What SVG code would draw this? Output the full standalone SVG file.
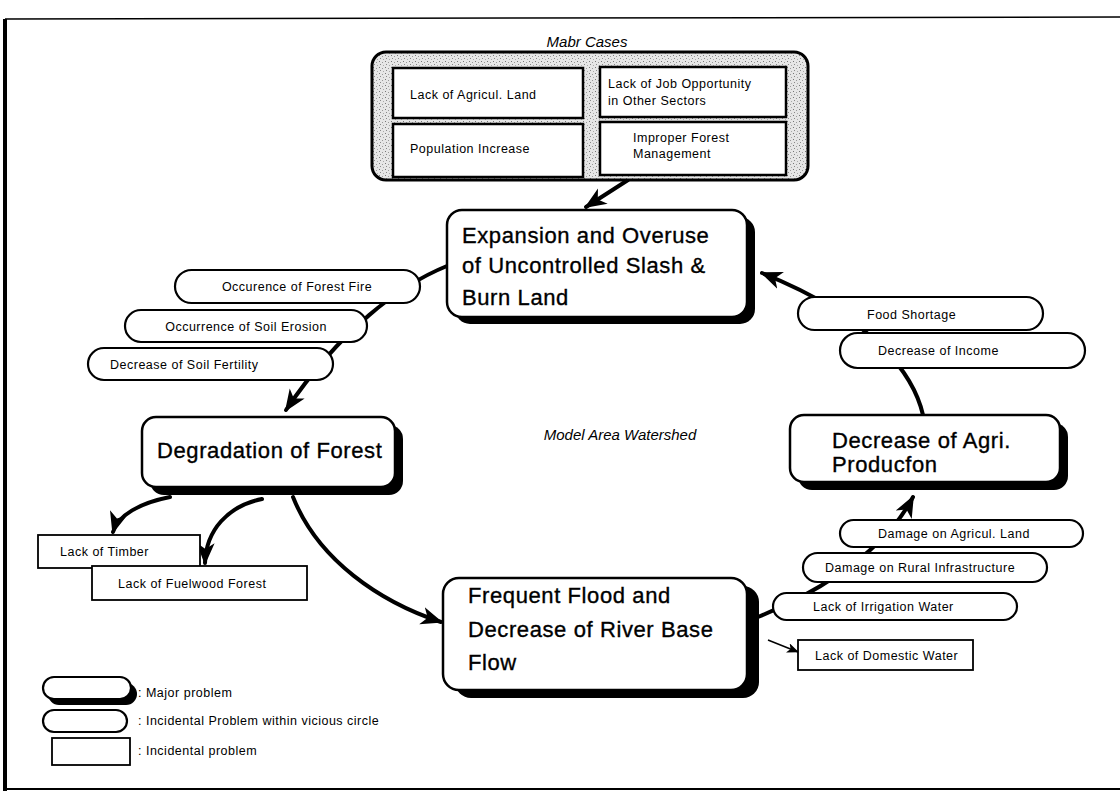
<svg xmlns="http://www.w3.org/2000/svg" width="1120" height="791" viewBox="0 0 1120 791">
  <defs>
    <style>
      .frame { stroke: #000; fill: none; }
      .card { fill: #fff; stroke: #000; stroke-width: 2.5; }
      .shadow { fill: #000; }
      .pill { fill: #fff; stroke: #000; stroke-width: 2.2; }
      .inner { fill: #fff; stroke: #000; stroke-width: 2.5; }
      .plain { fill: #fff; stroke: #000; stroke-width: 1.8; }
      .big { font-family: "Liberation Sans", Arial, sans-serif; font-size: 22px; letter-spacing: 0.6px; fill: #000; stroke: #000; stroke-width: 0.35px; }
      .small { font-family: "Liberation Sans", Arial, sans-serif; font-size: 12.5px; letter-spacing: 0.5px; fill: #000; }
      .note { font-family: "Liberation Sans", Arial, sans-serif; font-size: 15px; font-style: italic; fill: #000; }
      .link { fill: none; stroke: #000; stroke-width: 4; stroke-linecap: round; }
      .thin { fill: none; stroke: #000; stroke-width: 1.5; }
    </style>
    <pattern id="stipple" width="6" height="6" patternUnits="userSpaceOnUse">
      <rect width="6" height="6" fill="#e6e6e6"/>
      <rect x="1" y="1" width="1" height="1" fill="#777"/>
      <rect x="4" y="2" width="1" height="1" fill="#999"/>
      <rect x="2" y="4" width="1" height="1" fill="#888"/>
      <rect x="5" y="5" width="1" height="1" fill="#aaa"/>
    </pattern>
    <marker id="head" markerUnits="userSpaceOnUse" markerWidth="24" markerHeight="20" refX="20" refY="10" orient="auto">
      <path d="M0,1 L22,10 L0,19 L6,10 z" fill="#000"/>
    </marker>
    <marker id="headSmall" markerUnits="userSpaceOnUse" markerWidth="12" markerHeight="10" refX="11" refY="5" orient="auto">
      <path d="M0,0 L12,5 L0,10 L3,5 z" fill="#000"/>
    </marker>
  </defs>

  <rect width="1120" height="791" fill="#fff"/>

  <!-- page frame -->
  <g id="frame">
    <line class="frame" x1="5" y1="19" x2="1120" y2="17" stroke-width="1.5"/>
    <line class="frame" x1="5" y1="19" x2="5" y2="791" stroke-width="4"/>
    <line class="frame" x1="5" y1="789" x2="1120" y2="789" stroke-width="2"/>
  </g>

  <!-- connectors -->
  <g id="connectors">
    <path class="link" d="M628,180 L586,207" marker-end="url(#head)"/>
    <path class="link" d="M447,266 C400,285 340,330 286,410" marker-end="url(#head)"/>
    <path class="link" d="M170,497 C140,503 118,515 113,532" marker-end="url(#head)"/>
    <path class="link" d="M262,499 C228,506 206,530 205,563" marker-end="url(#head)"/>
    <path class="link" d="M293,497 C318,560 380,602 441,622" marker-end="url(#head)"/>
    <path class="link" d="M758,617 C800,600 880,560 913,497" marker-end="url(#head)"/>
    <path class="link" d="M923,415 C915,380 880,320 762,273" marker-end="url(#head)"/>
    <path class="thin" d="M768,640 L798,652" marker-end="url(#headSmall)"/>
  </g>

  <!-- major causes panel -->
  <g id="major-causes">
    <text class="note" x="587" y="47" text-anchor="middle">Mabr Cases</text>
    <rect x="372" y="52" width="436" height="128" rx="14" fill="url(#stipple)" stroke="#000" stroke-width="3"/>
    <rect class="inner" x="393" y="68" width="190" height="50"/>
    <rect class="inner" x="600" y="67" width="186" height="50"/>
    <rect class="inner" x="393" y="124" width="190" height="53"/>
    <rect class="inner" x="600" y="122" width="186" height="53"/>
    <text class="small" x="410" y="99">Lack of Agricul. Land</text>
    <text class="small" x="608" y="88">Lack of Job Opportunity</text>
    <text class="small" x="608" y="105">in Other Sectors</text>
    <text class="small" x="410" y="153">Population Increase</text>
    <text class="small" x="633" y="142">Improper Forest</text>
    <text class="small" x="633" y="158">Management</text>
  </g>

  <g id="expansion">
    <rect class="shadow" x="455" y="217" width="300" height="107" rx="15"/>
    <rect class="card" x="447" y="210" width="300" height="107" rx="15"/>
    <text class="big" x="462" y="243">Expansion and Overuse</text>
    <text class="big" x="462" y="273">of Uncontrolled Slash &amp;</text>
    <text class="big" x="462" y="305">Burn Land</text>
  </g>

  <g id="degradation">
    <rect class="shadow" x="150" y="425" width="253" height="70" rx="14"/>
    <rect class="card" x="142" y="417" width="253" height="70" rx="14"/>
    <text class="big" x="157" y="458">Degradation of Forest</text>
  </g>

  <g id="agri-production">
    <rect class="shadow" x="798" y="423" width="270" height="67" rx="14"/>
    <rect class="card" x="790" y="415" width="270" height="67" rx="14"/>
    <text class="big" x="832" y="448">Decrease of Agri.</text>
    <text class="big" x="832" y="472">Producfon</text>
  </g>

  <g id="flood">
    <rect class="shadow" x="455" y="586" width="304" height="112" rx="16"/>
    <rect class="card" x="443" y="578" width="304" height="112" rx="16"/>
    <text class="big" x="468" y="603">Frequent Flood and</text>
    <text class="big" x="468" y="637">Decrease of River Base</text>
    <text class="big" x="468" y="670">Flow</text>
  </g>

  <g id="forest-fire">
    <rect class="pill" x="175" y="270" width="245" height="33" rx="16.5"/>
    <text class="small" x="297" y="291" text-anchor="middle">Occurence of Forest Fire</text>
  </g>
  <g id="soil-erosion">
    <rect class="pill" x="125" y="310" width="242" height="32" rx="16"/>
    <text class="small" x="246" y="331" text-anchor="middle">Occurrence of Soil Erosion</text>
  </g>
  <g id="soil-fertility">
    <rect class="pill" x="88" y="348" width="245" height="32" rx="16"/>
    <text class="small" x="110" y="369">Decrease of Soil Fertility</text>
  </g>

  <g id="food-shortage">
    <rect class="pill" x="798" y="297" width="245" height="33" rx="16.5"/>
    <text class="small" x="867" y="319">Food Shortage</text>
  </g>
  <g id="income">
    <rect class="pill" x="840" y="333" width="245" height="35" rx="17.5"/>
    <text class="small" x="878" y="355">Decrease of Income</text>
  </g>

  <g id="agri-land">
    <rect class="pill" x="840" y="520" width="243" height="27" rx="13.5"/>
    <text class="small" x="878" y="538">Damage on Agricul. Land</text>
  </g>
  <g id="rural-infra">
    <rect class="pill" x="803" y="553" width="244" height="29" rx="14.5"/>
    <text class="small" x="825" y="572">Damage on Rural Infrastructure</text>
  </g>
  <g id="irrigation">
    <rect class="pill" x="773" y="593" width="244" height="27" rx="13.5"/>
    <text class="small" x="813" y="611">Lack of Irrigation Water</text>
  </g>

  <g id="timber">
    <rect class="plain" x="38" y="535" width="162" height="33"/>
    <text class="small" x="60" y="556">Lack of Timber</text>
  </g>
  <g id="fuelwood">
    <rect class="plain" x="92" y="566" width="215" height="34"/>
    <text class="small" x="118" y="588">Lack of Fuelwood Forest</text>
  </g>
  <g id="domestic-water">
    <rect class="plain" x="798" y="640" width="175" height="30"/>
    <text class="small" x="815" y="660">Lack of Domestic Water</text>
  </g>

  <g id="watershed-label">
    <text class="note" x="620" y="440" text-anchor="middle">Model Area Watershed</text>
  </g>

  <!-- legend -->
  <g id="legend">
    <rect class="shadow" x="48" y="683" width="89" height="22" rx="11"/>
    <rect class="pill" x="43" y="677" width="88" height="22" rx="11"/>
    <text class="small" x="138" y="697">:  Major problem</text>
    <rect class="pill" x="43" y="710" width="84" height="22" rx="11"/>
    <text class="small" x="138" y="725">:  Incidental Problem within vicious circle</text>
    <rect class="plain" x="52" y="738" width="78" height="27"/>
    <text class="small" x="138" y="755">:  Incidental problem</text>
  </g>
</svg>
